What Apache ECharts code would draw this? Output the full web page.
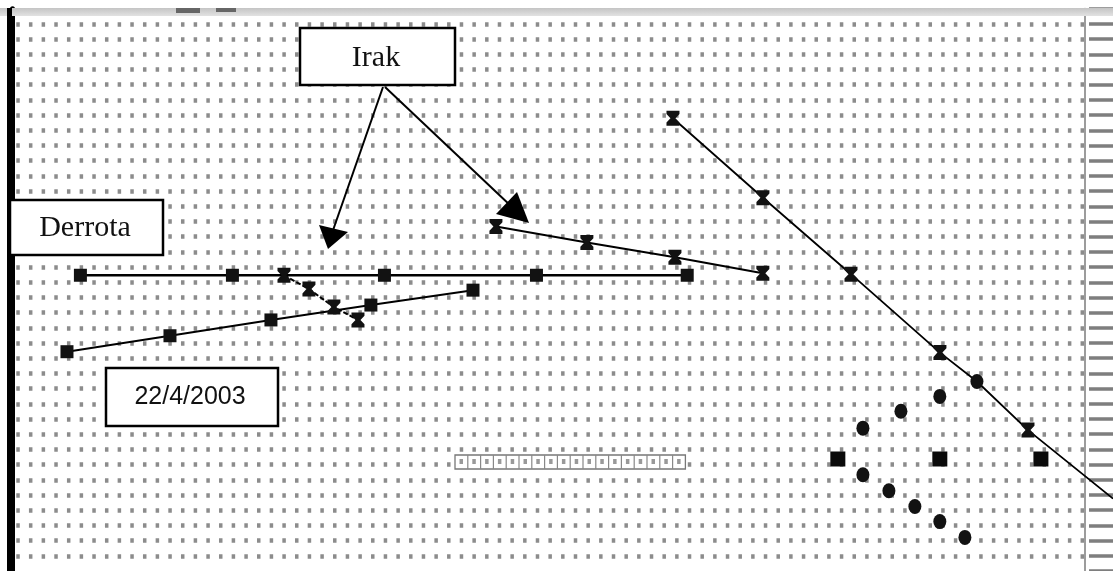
<!DOCTYPE html>
<html><head><meta charset="utf-8">
<script src="https://cdn.jsdelivr.net/npm/echarts@6/dist/echarts.min.js"></script>
<style>html,body{margin:0;padding:0;background:#fff}#c{width:1113px;height:571px}</style>
</head><body><div id="c"></div>
<script>
// grid units: columns (x) and rows (y, counted downward)
const flatSquares = [[5.4,16.54],[17.4,16.54],[29.4,16.54],[41.4,16.54],[53.3,16.54]];
const dipHourglass = [[21.47,16.54],[23.44,17.45],[25.41,18.63],[27.31,19.48]];
const risingSquares = [[4.34,21.57],[12.47,20.52],[20.44,19.48],[28.33,18.5],[36.39,17.52]];
const fallingHourglass = [[38.2,13.33],[45.38,14.38],[52.33,15.36],[59.27,16.41]];
const steepLine = [[52.17,6.21],[59.27,11.44],[66.22,16.47],[73.24,21.63],[76.16,23.53],[80.19,26.73],[86.9,31.24]];
const steepMarks = ['hg','hg','hg','hg','circle','hg','none'];
const circleDots = [[73.24,24.51],[70.17,25.49],[67.17,26.6],[67.17,29.67],[69.22,30.72],[71.27,31.76],[73.24,32.75],[75.22,33.79]];
const bigSquares = [[65.19,28.63],[73.24,28.63],[81.22,28.63]];
const labels = {irak:'Irak', derrota:'Derrota', date:'22/4/2003'};

const HG = 'path://M0,0H12V3L8.3,7L12,11V14H0V11L3.7,7L0,3Z';
const chart = echarts.init(document.getElementById('c'), null, {renderer:'canvas'});

function sym(k){ return k==='hg'?HG:(k==='circle'?'circle':'none'); }
function symSize(k){ return k==='hg'?[13,15]:(k==='circle'?[13,15]:0); }

const cells = [];
const cx0 = 455, cw = 12.8, cy0 = 455, ch = 14;
cells.push({type:'rect', z:20, shape:{x:cx0,y:cy0,width:cw*18,height:ch}, style:{fill:'#fff',stroke:'#777',lineWidth:1.3}});
for(let i=1;i<=18;i++){
  if(i<18) cells.push({type:'line', z:21, shape:{x1:cx0+cw*i,y1:cy0,x2:cx0+cw*i,y2:cy0+ch}, style:{stroke:'#888',lineWidth:1.2}});
  cells.push({type:'rect', z:21, shape:{x:cx0+cw*(i-1)+4.5,y:cy0+4,width:3.5,height:5}, style:{fill:'#999'}});
}

const yCommon = {type:'value', inverse:true, min:-1, max:36, interval:1};
const ITEM = {color:'#121212', opacity:1};

chart.setOption({
  animation:false,
  backgroundColor:'#fff',
  grid:[{left:12, top:8.7, width:1073, height:566.1},{left:12, top:8.7, width:1101, height:566.1}],
  xAxis:[{type:'value', min:0, max:84.7, show:false, gridIndex:0},{type:'value', min:0, max:86.9, show:false, gridIndex:1}],
  yAxis:[
    Object.assign({}, yCommon, {gridIndex:0, position:'left', offset:2.5,
     axisLine:{show:true, lineStyle:{color:'#000', width:5}}, axisTick:{show:false}, axisLabel:{show:false},
     splitLine:{show:true, showMinLine:false, showMaxLine:false, lineStyle:{color:'#8c8c8c', width:4.5, type:[3.5,9.17], dashOffset:8.4}}}),
    Object.assign({}, yCommon, {gridIndex:0, position:'right', offset:0,
     axisLine:{show:true, lineStyle:{color:'#9c9c9c', width:2}}, axisTick:{show:false}, axisLabel:{show:false}, splitLine:{show:false}}),
    Object.assign({}, yCommon, {gridIndex:0, position:'right', offset:4,
     axisLine:{show:false}, axisTick:{show:true, length:26, lineStyle:{color:'#7e7e7e', width:3.5}}, axisLabel:{show:false}, splitLine:{show:false}}),
    Object.assign({}, yCommon, {gridIndex:1, show:false})
  ],
  series:[
    {type:'line', data:flatSquares, symbol:'rect', symbolSize:13, lineStyle:{color:'#000',width:2.4}, itemStyle:ITEM, z:3},
    {type:'line', data:risingSquares, symbol:'rect', symbolSize:13, lineStyle:{color:'#000',width:2}, itemStyle:ITEM, z:3},
    {type:'line', data:dipHourglass, symbol:HG, symbolSize:[13,15], lineStyle:{color:'#000',width:2,type:[5,2]}, itemStyle:ITEM, z:4},
    {type:'line', data:fallingHourglass, symbol:HG, symbolSize:[13,15], lineStyle:{color:'#000',width:2}, itemStyle:ITEM, z:3},
    {type:'line', xAxisIndex:1, yAxisIndex:3, data:steepLine.map((p,i)=>({value:p, symbol:sym(steepMarks[i]), symbolSize:symSize(steepMarks[i])})),
     showAllSymbol:true, lineStyle:{color:'#000',width:1.8}, itemStyle:ITEM, z:3},
    {type:'scatter', data:circleDots, symbol:'circle', symbolSize:[13,15], itemStyle:ITEM, z:3},
    {type:'scatter', data:bigSquares, symbol:'rect', symbolSize:15, itemStyle:{color:'#0a0a0a', opacity:1}, z:3}
  ],
  graphic:[
    {type:'rect', z:15, shape:{x:0,y:8,width:1113,height:8}, style:{fill:new echarts.graphic.LinearGradient(0,0,0,1,[{offset:0,color:'#c4c4c4'},{offset:1,color:'#e2e2e2'}])}},
    {type:'rect', z:16, shape:{x:176,y:8,width:24,height:5}, style:{fill:'#666'}},
    {type:'rect', z:16, shape:{x:216,y:8,width:20,height:4}, style:{fill:'#666'}},
    {type:'line', z:17, shape:{x1:9.5,y1:8,x2:9.5,y2:571}, style:{stroke:'#000',lineWidth:5}},
    // arrows
    {type:'line', z:18, shape:{x1:383,y1:87,x2:331,y2:236}, style:{stroke:'#000',lineWidth:2}},
    {type:'polygon', z:18, shape:{points:[[328,249],[319,225],[348,232]]}, style:{fill:'#000'}},
    {type:'line', z:18, shape:{x1:385,y1:87,x2:512,y2:207}, style:{stroke:'#000',lineWidth:2}},
    {type:'polygon', z:18, shape:{points:[[529,223],[496,214],[517,192]]}, style:{fill:'#000'}},
    // boxes
    {type:'rect', z:19, shape:{x:300,y:28,width:155,height:57}, style:{fill:'#fff',stroke:'#000',lineWidth:2.5}},
    {type:'text', z:20, style:{text:labels.irak, x:376,y:58, font:'30px "Liberation Serif"', fill:'#111', textAlign:'center', textVerticalAlign:'middle'}},
    {type:'rect', z:19, shape:{x:10,y:200,width:153,height:55}, style:{fill:'#fff',stroke:'#000',lineWidth:2.5}},
    {type:'text', z:20, style:{text:labels.derrota, x:85,y:228, font:'30px "Liberation Serif"', fill:'#111', textAlign:'center', textVerticalAlign:'middle'}},
    {type:'rect', z:19, shape:{x:106,y:368,width:172,height:58}, style:{fill:'#fff',stroke:'#000',lineWidth:2.5}},
    {type:'text', z:20, style:{text:labels.date, x:190,y:397, font:'25px "Liberation Sans"', fill:'#111', textAlign:'center', textVerticalAlign:'middle'}}
  ].concat(cells)
});
</script></body></html>
